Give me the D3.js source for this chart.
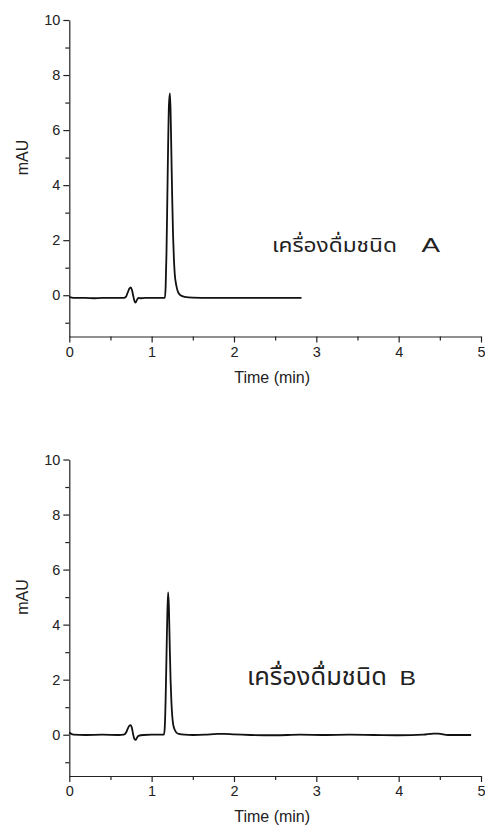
<!DOCTYPE html>
<html>
<head>
<meta charset="utf-8">
<script src="https://cdn.jsdelivr.net/npm/d3@7"></script>
<style>
  html, body { margin: 0; padding: 0; background: #fff; }
  svg { display: block; }
  .axis path, .axis line { stroke: #222; stroke-width: 1.2; }
</style>
</head>
<body>
<svg id="chart" width="485" height="829"></svg>
<script>
// Chromatogram of sample A (retention time in min, absorbance in mAU)
const timeA = [0, 0.05, 0.1, 0.2, 0.3, 0.4, 0.5, 0.6, 0.66, 0.69, 0.71, 0.73, 0.745, 0.76, 0.775, 0.79, 0.805, 0.82, 0.84, 0.87, 0.92, 1.0, 1.1, 1.16, 1.17, 1.18, 1.19, 1.2, 1.21, 1.222, 1.23, 1.24, 1.25, 1.26, 1.27, 1.28, 1.3, 1.32, 1.35, 1.4, 1.5, 1.7, 2.0, 2.3, 2.6, 2.82];
const valueA = [-0.06, -0.1, -0.1, -0.1, -0.11, -0.1, -0.1, -0.1, -0.1, -0.05, 0.1, 0.24, 0.28, 0.2, 0.0, -0.2, -0.27, -0.18, -0.1, -0.11, -0.1, -0.1, -0.1, -0.1, 0.3, 1.5, 3.4, 5.4, 6.9, 7.33, 6.7, 5.1, 3.5, 2.2, 1.35, 0.8, 0.35, 0.12, 0.0, -0.06, -0.09, -0.1, -0.1, -0.1, -0.1, -0.1];

// Chromatogram of sample B
const timeB = [0, 0.05, 0.2, 0.4, 0.6, 0.66, 0.69, 0.71, 0.73, 0.745, 0.76, 0.775, 0.79, 0.805, 0.82, 0.84, 0.9, 1.0, 1.1, 1.15, 1.16, 1.17, 1.18, 1.19, 1.2, 1.21, 1.22, 1.23, 1.24, 1.25, 1.26, 1.28, 1.3, 1.33, 1.4, 1.5, 1.65, 1.8, 1.88, 2.0, 2.2, 2.5, 2.8, 3.1, 3.4, 3.7, 4.0, 4.3, 4.42, 4.48, 4.6, 4.88];
const valueB = [0.08, 0.0, -0.01, 0.0, -0.01, 0.0, 0.08, 0.22, 0.33, 0.35, 0.25, 0.02, -0.15, -0.19, -0.12, -0.04, -0.01, 0.0, 0.0, 0.0, 0.3, 1.3, 2.8, 4.3, 5.17, 4.6, 3.2, 2.0, 1.2, 0.7, 0.4, 0.18, 0.08, 0.03, 0.0, -0.01, 0.0, 0.03, 0.03, 0.01, -0.01, -0.02, 0.0, -0.01, 0.0, -0.01, -0.02, 0.0, 0.04, 0.04, -0.01, -0.01];

// Axis settings
const xDomain = [0, 5];
const yDomain = [-1.5, 10];
const xMajorTicks = [0, 1, 2, 3, 4, 5];
const xMinorTicks = [0.5, 1.5, 2.5, 3.5, 4.5];
const yMajorTicks = [0, 2, 4, 6, 8, 10];
const yMinorTicks = [-1, 1, 3, 5, 7, 9];
const xLabel = "Time (min)";
const yLabel = "mAU";
const sampleThai = ["เครื่องดื่มชนิด", "เครื่องดื่มชนิด"];
const sampleLetter = ["A", "B"];

const latin = "'Liberation Sans', Arial, sans-serif";
const svg = d3.select("#chart");

const panels = [
  { t: timeA, v: valueA, top: 20, thai: { x: 272, y: 252, w: 125, size: 20 }, letter: { x: 421.5, y: 252, w: 18.5 } },
  { t: timeB, v: valueB, top: 459.5, thai: { x: 247, y: 685, w: 140, size: 24 }, letter: { x: 399.5, y: 685, w: 16.5 } }
];

const xLeft = 69.3, xRight = 481, plotH = 316.5;

function styleTickText(s) {
  s.selectAll("text")
    .attr("font-family", latin)
    .attr("font-size", 14.5)
    .attr("fill", "#222");
}

panels.forEach((p, i) => {
  const x = d3.scaleLinear().domain(xDomain).range([xLeft, xRight]);
  const y = d3.scaleLinear().domain(yDomain).range([p.top + plotH, p.top]);
  const g = svg.append("g");

  // minor ticks
  g.append("g").attr("class", "axis")
    .attr("transform", `translate(0,${y(yDomain[0])})`)
    .call(d3.axisBottom(x).tickValues(xMinorTicks).tickSize(4).tickFormat(""))
    .call(s => s.select(".domain").remove());
  g.append("g").attr("class", "axis")
    .attr("transform", `translate(${x(0)},0)`)
    .call(d3.axisLeft(y).tickValues(yMinorTicks).tickSize(4).tickFormat(""))
    .call(s => s.select(".domain").remove());

  // major axes
  g.append("g").attr("class", "axis")
    .attr("transform", `translate(0,${y(yDomain[0])})`)
    .call(d3.axisBottom(x).tickValues(xMajorTicks).tickSizeInner(6).tickSizeOuter(0).tickPadding(4).tickFormat(d3.format("d")))
    .call(styleTickText);
  g.append("g").attr("class", "axis")
    .attr("transform", `translate(${x(0)},0)`)
    .call(d3.axisLeft(y).tickValues(yMajorTicks).tickSizeInner(6).tickSizeOuter(0).tickPadding(3).tickFormat(d3.format("d")))
    .call(styleTickText);

  // axis titles
  g.append("text")
    .attr("x", (xLeft + xRight) / 2 - 3)
    .attr("y", y(yDomain[0]) + 46)
    .attr("text-anchor", "middle")
    .attr("font-family", latin)
    .attr("font-size", 16).attr("fill", "#222")
    .text(xLabel);
  g.append("text")
    .attr("transform", `translate(27.5,${p.top + 137.5}) rotate(-90)`)
    .attr("text-anchor", "middle")
    .attr("font-family", latin)
    .attr("font-size", 16).attr("fill", "#222")
    .text(yLabel);

  // trace
  const data = p.t.map((t, k) => [t, p.v[k]]);
  g.append("path")
    .datum(data)
    .attr("fill", "none")
    .attr("stroke", "#111")
    .attr("stroke-width", 1.8)
    .attr("stroke-linejoin", "round")
    .attr("d", d3.line().x(d => x(d[0])).y(d => y(d[1])).curve(d3.curveMonotoneX));

  // sample label
  g.append("text")
    .attr("x", p.thai.x).attr("y", p.thai.y)
    .attr("textLength", p.thai.w).attr("lengthAdjust", "spacingAndGlyphs")
    .attr("font-family", "'Noto Sans Thai', 'Noto Sans', sans-serif")
    .attr("font-size", p.thai.size).attr("fill", "#222")
    .text(sampleThai[i]);
  g.append("text")
    .attr("x", p.letter.x).attr("y", p.letter.y)
    .attr("textLength", p.letter.w).attr("lengthAdjust", "spacingAndGlyphs")
    .attr("font-family", latin)
    .attr("font-size", 21).attr("fill", "#222")
    .text(sampleLetter[i]);
});
</script>
</body>
</html>
